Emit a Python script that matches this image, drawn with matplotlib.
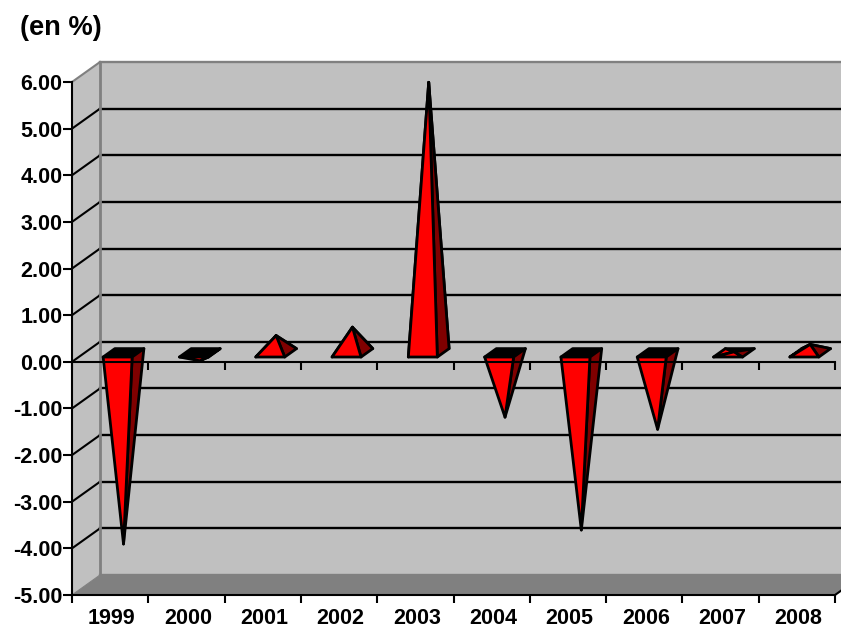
import matplotlib
matplotlib.use('Agg')
import matplotlib.pyplot as plt
from matplotlib.patches import Polygon

plt.rcParams['font.family'] = ['Liberation Sans', 'DejaVu Sans']

# DATA
years = ['1999', '2000', '2001', '2002', '2003', '2004', '2005', '2006', '2007', '2008']
values = [-4.1, -0.17, 0.37, 0.55, 5.8, -1.38, -3.8, -1.64, 0.02, 0.18]
y_ticks = [-5, -4, -3, -2, -1, 0, 1, 2, 3, 4, 5, 6]
y_labels = ['-5.00', '-4.00', '-3.00', '-2.00', '-1.00', '0.00', '1.00', '2.00', '3.00', '4.00', '5.00', '6.00']

# STYLE
WALL = '#C0C0C0'
FLOOR = '#808080'
EDGE = '#808080'
RED = '#FF0000'
DARK = '#800000'
LW = 1.5
BAR_LW = 2.0

W, H = 841, 629
fig = plt.figure(figsize=(W / 100, H / 100), dpi=100)
ax = fig.add_axes([72 / W, 1 - 595 / H, (835 - 72) / W, (595 - 82) / H])
ax.set_xlim(0, len(years))
ax.set_ylim(y_ticks[0], y_ticks[-1])
ax.patch.set_visible(False)

# oblique depth of the 3d box, in data units
depth_x = 28 / 76.3
depth_y = 20 / 46.64
n = len(years)
lo, hi = y_ticks[0], y_ticks[-1]


def add_poly(points, face, z, lw=BAR_LW, edge='black'):
    ax.add_patch(Polygon(points, closed=True, facecolor=face, edgecolor=edge,
                         linewidth=lw, zorder=z, clip_on=False, joinstyle='round'))


# WALLS AND FLOOR
add_poly([(depth_x, lo + depth_y), (n + depth_x, lo + depth_y), (n + depth_x, hi + depth_y), (depth_x, hi + depth_y)], WALL, 1, lw=0, edge=WALL)
add_poly([(0, lo), (depth_x, lo + depth_y), (depth_x, hi + depth_y), (0, hi)], WALL, 1, lw=0, edge=WALL)
add_poly([(0, lo), (n, lo), (n + depth_x, lo + depth_y), (depth_x, lo + depth_y)], FLOOR, 1, lw=0, edge=FLOOR)

# GRID
for v in y_ticks:
    c = EDGE if v in (lo, hi) else 'black'
    ax.plot([depth_x, n + depth_x], [v + depth_y, v + depth_y], color=c, lw=LW + 0.2, zorder=2, clip_on=False)
    ax.plot([0, depth_x], [v, v + depth_y], color=c, lw=LW if v != lo else 0.8, zorder=2, clip_on=False)
ax.plot([depth_x, depth_x], [lo + depth_y, hi + depth_y], color=EDGE, lw=2.0, zorder=2, clip_on=False)
ax.plot([n, n + depth_x], [lo, lo + depth_y], color='black', lw=LW, zorder=2, clip_on=False)

# PYRAMIDS
half = 14.5 / 76.3
front, back = 0.24, 0.66
for i, v in enumerate(values):
    cx = i + 0.51
    fy, by = front * depth_y, back * depth_y
    fx, bx = front * depth_x, back * depth_x
    fl = (cx - half + fx, fy)
    fr = (cx + half + fx, fy)
    br = (cx + half + bx, by)
    bl = (cx - half + bx, by)
    apex = (cx + (fx + bx) / 2, v + (fy + by) / 2)
    z = 3 + i * 0.01
    if v < 0:
        add_poly([fl, fr, br, bl], 'black', z)
    else:
        add_poly([bl, br, apex], DARK, z)
        add_poly([fl, bl, apex], RED, z)
    add_poly([fr, br, apex], DARK, z)
    add_poly([fl, fr, apex], RED, z)

# ZERO AXIS, drawn over the pyramids
ax.axhline(0, color='black', lw=LW, zorder=5, clip_on=False)
ax.vlines(range(n + 1), -8 / 46.64, 0, color='black', lw=LW, zorder=5, clip_on=False)

# AXES
for name in ('top', 'right'):
    ax.spines[name].set_visible(False)
for name in ('left', 'bottom'):
    ax.spines[name].set_linewidth(LW)
    ax.spines[name].set_zorder(6)
ax.set_yticks(y_ticks, y_labels, fontsize=15.5, fontweight='bold')
ax.set_xticks(range(n + 1), [''] * (n + 1))
ax.set_xticks([i + 0.52 for i in range(n)], years, minor=True, fontsize=15.5, fontweight='bold')
ax.tick_params(axis='y', length=6.5, width=LW, pad=0.5, colors='black')
ax.tick_params(axis='x', which='major', length=6, width=LW)
ax.tick_params(axis='x', which='minor', length=0, pad=9.5)

fig.text(20 / W, 1 - 28 / H, '(en %)', fontsize=19.6, fontweight='bold', ha='left', va='center')

fig.savefig('out.png', dpi=100)
